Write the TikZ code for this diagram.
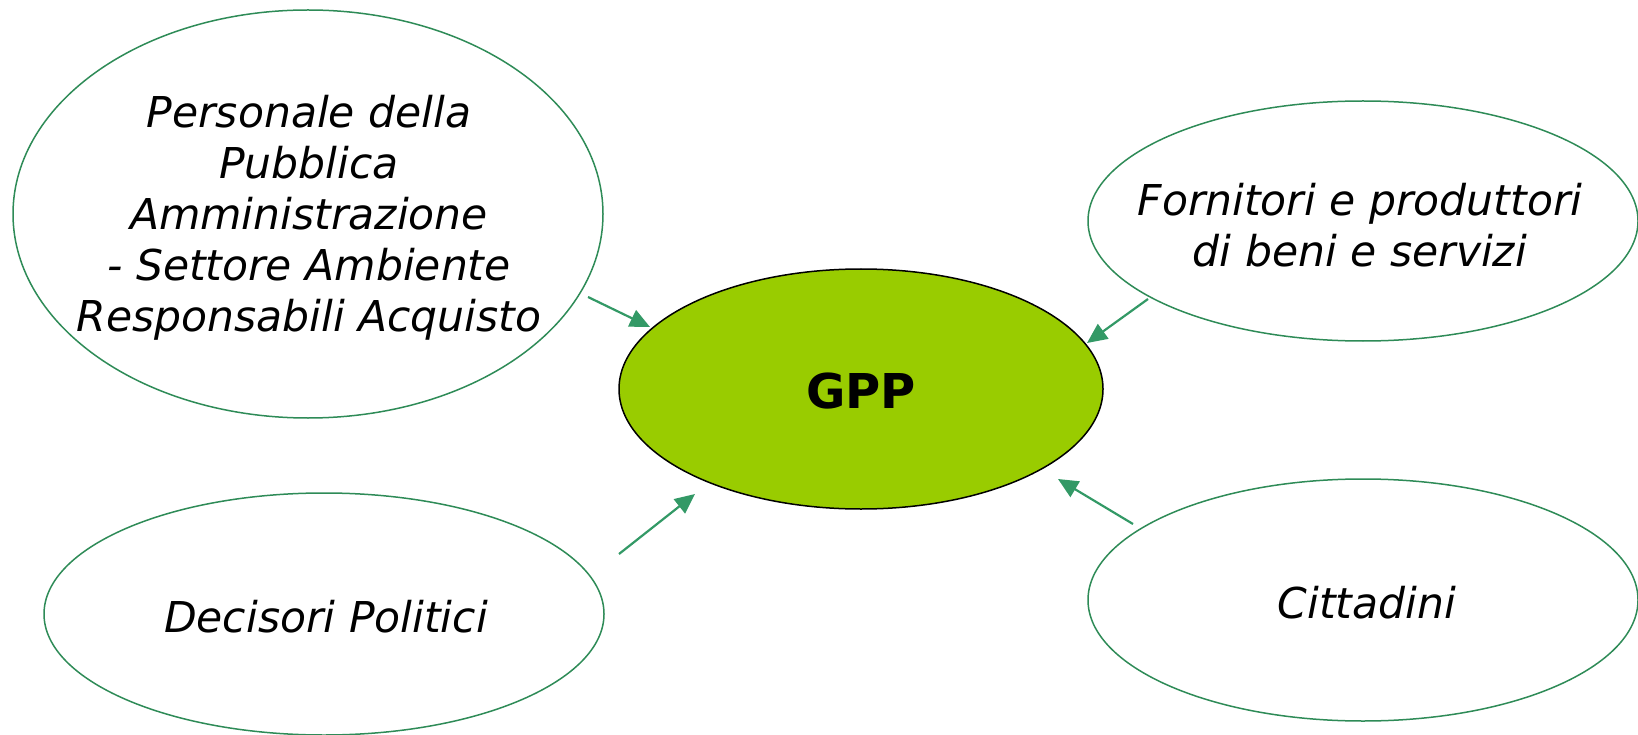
\documentclass[tikz,border=0pt]{standalone}
\usepackage{fontspec}
\setmainfont{DejaVu Sans}
\usetikzlibrary{shapes.geometric,arrows.meta}
\definecolor{edgegreen}{RGB}{46,139,87}
\definecolor{arrowgreen}{RGB}{51,153,102}
\definecolor{gppfill}{RGB}{153,204,0}
\tikzset{
  actor/.style={ellipse, draw=edgegreen, line width=1.5pt, inner sep=0pt},
  actortext/.style={align=center, inner sep=0pt, font=\fontsize{42.5}{51}\selectfont\itshape},
  link/.style={draw=arrowgreen, line width=2.2pt, -{Triangle[length=20pt,width=18pt]}},
}
\begin{document}
\begin{tikzpicture}[x=1pt,y=-1pt]
\useasboundingbox (0,0) rectangle (1638,735);
\node[actor, minimum width=590pt, minimum height=408pt] (pers) at (308,214) {};
\node[actortext] (perst) at (309,218)
  {Personale della\\Pubblica\\Amministrazione\\- Settore Ambiente\\Responsabili Acquisto};
\node[actor, minimum width=550pt, minimum height=240pt] (forn) at (1363,221) {};
\node[actortext] (fornt) at (1360,225) {Fornitori e produttori\\ di beni e servizi};
\node[actor, minimum width=560pt, minimum height=242pt] (deci) at (324,614) {};
\node[actortext] (decit) at (326,617) {Decisori Politici};
\node[actor, minimum width=550pt, minimum height=242pt] (citt) at (1363,600) {};
\node[actortext] (cittt) at (1367,603) {Cittadini};
\node[ellipse, draw=black, line width=1.5pt, fill=gppfill, minimum width=484pt, minimum height=240pt,
  inner sep=0pt] (gpp) at (861,389) {};
\node[font=\fontsize{48}{58}\selectfont\bfseries, inner sep=0pt] (gppt) at (861,391) {GPP};
\coordinate (a1s) at (588,297); \coordinate (a1e) at (650,327);
\coordinate (a2s) at (619,554); \coordinate (a2e) at (695,494);
\coordinate (a3s) at (1148,299); \coordinate (a3e) at (1087,343);
\coordinate (a4s) at (1133,524); \coordinate (a4e) at (1058,479);
\draw[link] (a1s) -- (a1e);
\draw[link] (a2s) -- (a2e);
\draw[link] (a3s) -- (a3e);
\draw[link] (a4s) -- (a4e);
\end{tikzpicture}
\end{document}
